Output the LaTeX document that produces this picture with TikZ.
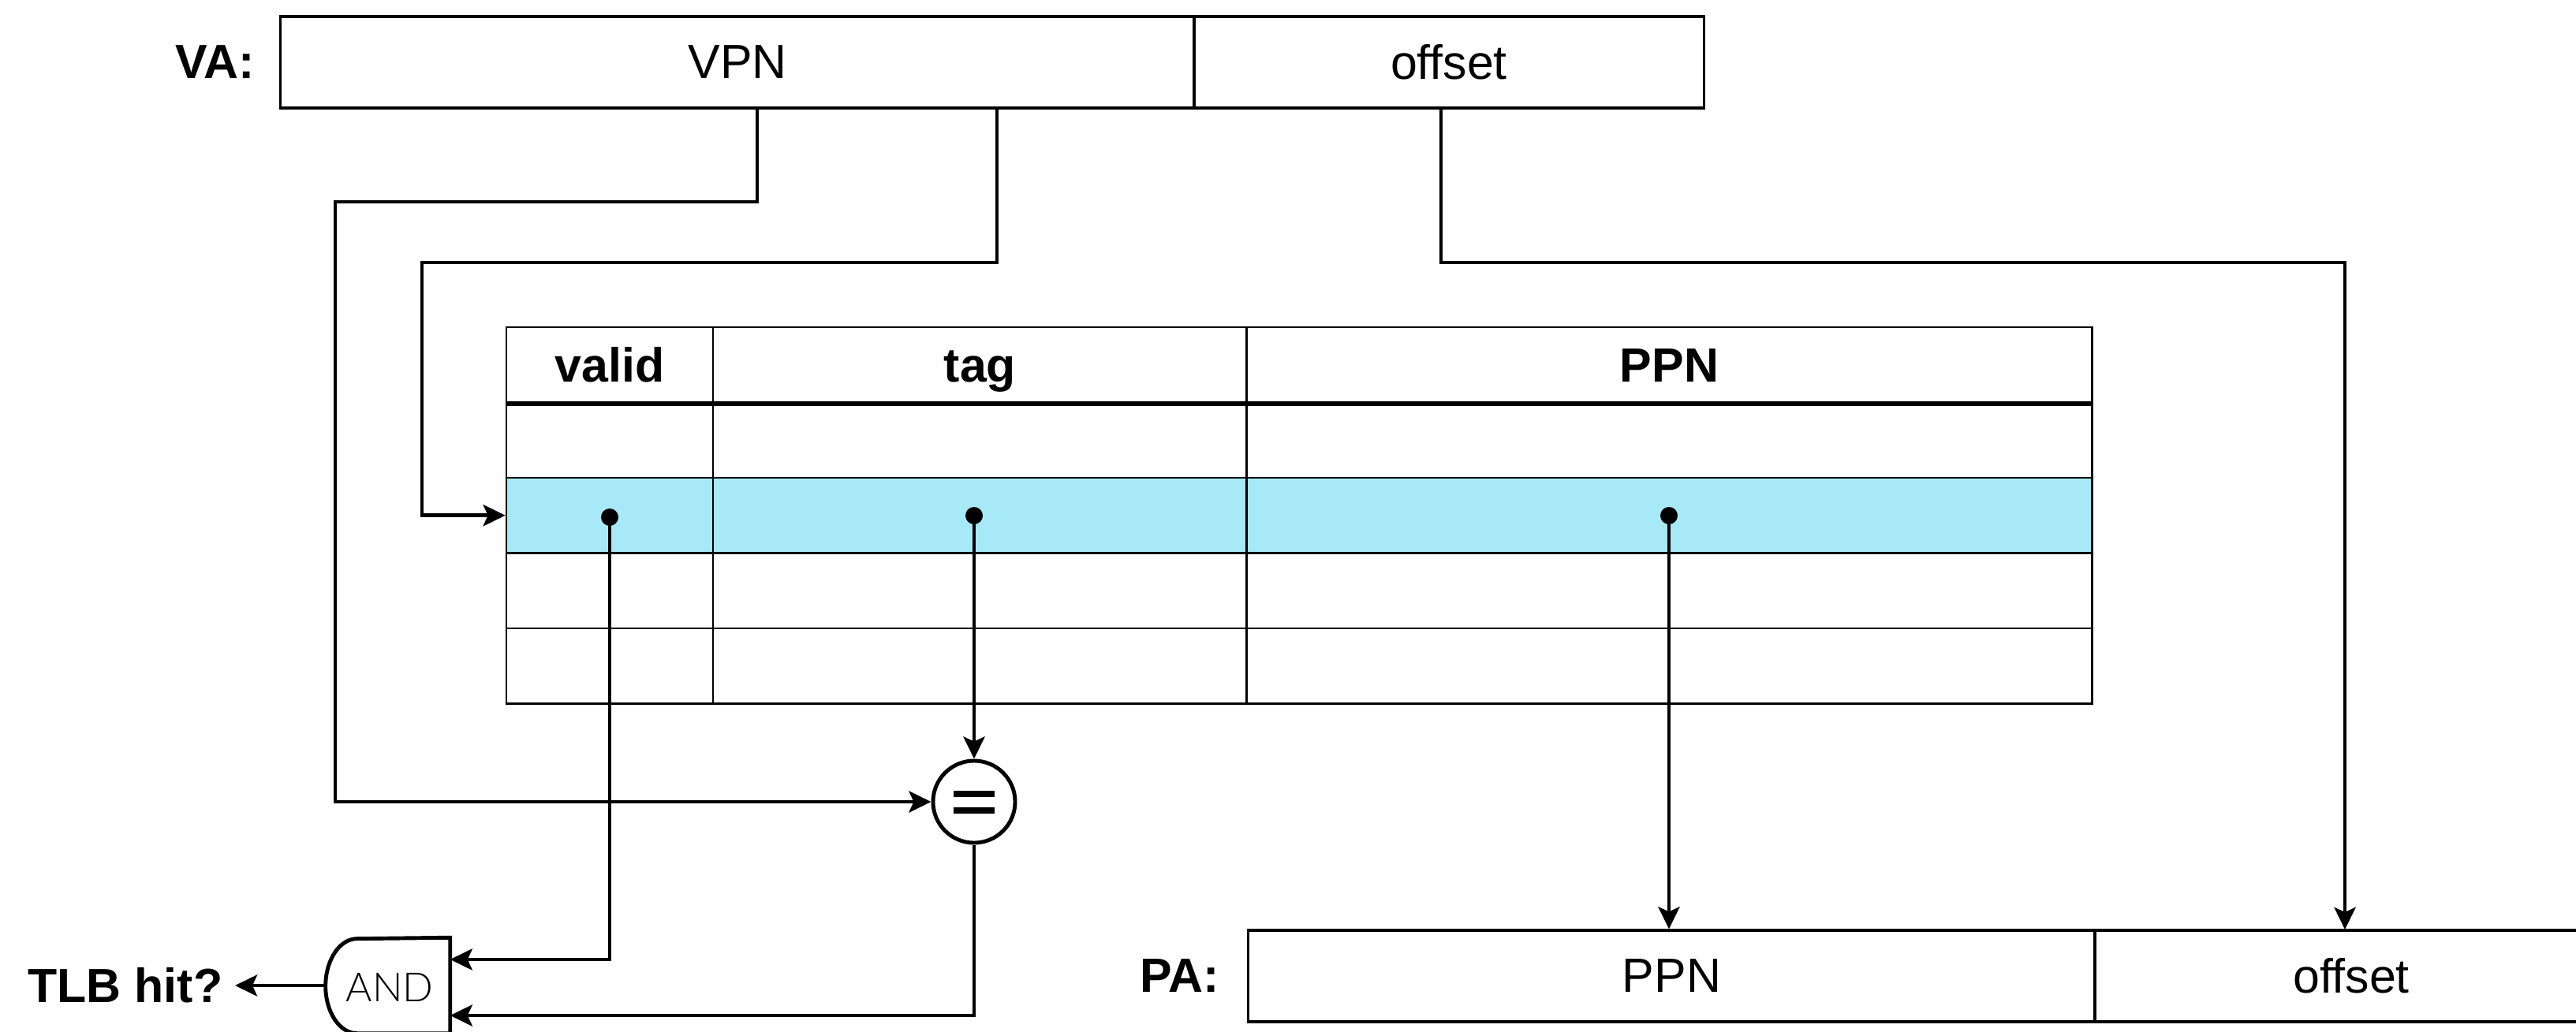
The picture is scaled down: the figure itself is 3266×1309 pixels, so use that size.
\documentclass[tikz,border=0pt]{standalone}
\usepackage{fontspec}
\setmainfont{Liberation Sans}
\newfontfamily\andfont{Lato Light}
\usetikzlibrary{arrows.meta}

\definecolor{rowhl}{RGB}{168,233,248}

\tikzset{
  wire/.style={line width=1.4pt},
  arr/.style={wire,-{Stealth[length=2.8mm,width=2.7mm,inset=0.6mm]}},
  txt/.style={font=\fontsize{17.3}{20}\selectfont},
  btxt/.style={font=\fontsize{17.3}{20}\selectfont\bfseries},
  field/.style={draw,line width=0.9pt,inner sep=0,minimum height=1.16cm,txt},
  cell/.style={draw,line width=0.7pt,inner sep=0,minimum height=0.955cm},
  head/.style={cell,btxt,text height=1.28em,text depth=0.06em},
  lbl/.style={btxt,anchor=east,inner sep=0},
  dotnode/.style={circle,fill,inner sep=0,minimum size=0.22cm},
}

\begin{document}
\begin{tikzpicture}[x=0.01cm,y=-0.01cm]
\useasboundingbox (0,0) rectangle (3266,1309);
\clip (0,0) rectangle (3266,1309);

% virtual address register
\node[lbl] (valbl) at (323,79) {VA:};
\node[field,minimum width=11.58cm] (vpn) at (935,79) {VPN};
\node[field,minimum width=6.46cm] (voff) at (1837,79) {offset};

% physical address register
\node[lbl] (palbl) at (1546,1238) {PA:};
\node[field,minimum width=10.73cm] (pppn) at (2119.5,1238) {PPN};
\node[field,minimum width=6.50cm] (poff) at (2981,1238) {offset};

% TLB table: header row
\node[head,minimum width=2.62cm] (h1) at (773,462.75) {valid};
\node[head,minimum width=6.77cm] (h2) at (1242.5,462.75) {tag};
\node[head,minimum width=10.71cm] (h3) at (2116.5,462.75) {PPN};
% TLB table: entries
\foreach \r/\yc in {1/558.25,2/653.75,3/749.25,4/844.75}{
  \ifnum\r=2
    \node[cell,fill=rowhl,minimum width=2.62cm] (r\r c1) at (773,\yc) {};
    \node[cell,fill=rowhl,minimum width=6.77cm] (r\r c2) at (1242.5,\yc) {};
    \node[cell,fill=rowhl,minimum width=10.71cm] (r\r c3) at (2116.5,\yc) {};
  \else
    \node[cell,minimum width=2.62cm] (r\r c1) at (773,\yc) {};
    \node[cell,minimum width=6.77cm] (r\r c2) at (1242.5,\yc) {};
    \node[cell,minimum width=10.71cm] (r\r c3) at (2116.5,\yc) {};
  \fi
}
\draw[line width=1.8pt] (h1.south west) -- (h3.south east);

% taps on the matching entry
\node[dotnode] (dv) at (773,656) {};
\node[dotnode] (dt) at (1235,654) {};
\node[dotnode] (dp) at (2116,654) {};

% comparator
\node[draw,circle,line width=1.4pt,minimum size=1.04cm,inner sep=0] (eq) at (1235,1017) {};
\draw[line width=0.08cm] ([shift={(-26,-10)}]eq.center) -- ++(52,0);
\draw[line width=0.08cm] ([shift={(-26,11)}]eq.center) -- ++(52,0);

% AND gate
\node[minimum width=1.58cm,minimum height=1.20cm,inner sep=0] (andg) at (491,1250) {};
\draw[wire] (andg.north east) -- (andg.south east) -- ++(-118,0)
  arc[start angle=270,end angle=90,x radius=0.40cm,y radius=0.60cm] -- cycle;
\node[font=\andfont\fontsize{14.5}{17}\selectfont] (andtxt) at (494,1252) {AND};

\node[lbl] (hit) at (283,1250) {TLB hit?};

% wiring
\coordinate (xa) at (960,0);
\coordinate (xb) at (1264,0);
\coordinate (xc) at (1827,0);
\draw[arr] (vpn.south -| xa) |- (425,256) |- (eq.west);
\draw[arr] (vpn.south -| xb) |- (535,333) |- (r2c1.west);
\draw[arr] (voff.south -| xc) |- (2973,333) -- (2973,1179);
\draw[arr] (dt.center) -- (eq.north);
\draw[arr] (dp.center) -- (dp.center |- pppn.north);
\draw[arr] (dv.center) |- ([yshift=0.33cm]andg.east);
\draw[arr] (eq.south) |- ([yshift=-0.38cm]andg.east);
\draw[arr] (andg.west) -- ([xshift=0.15cm]hit.east);
\end{tikzpicture}
\end{document}
